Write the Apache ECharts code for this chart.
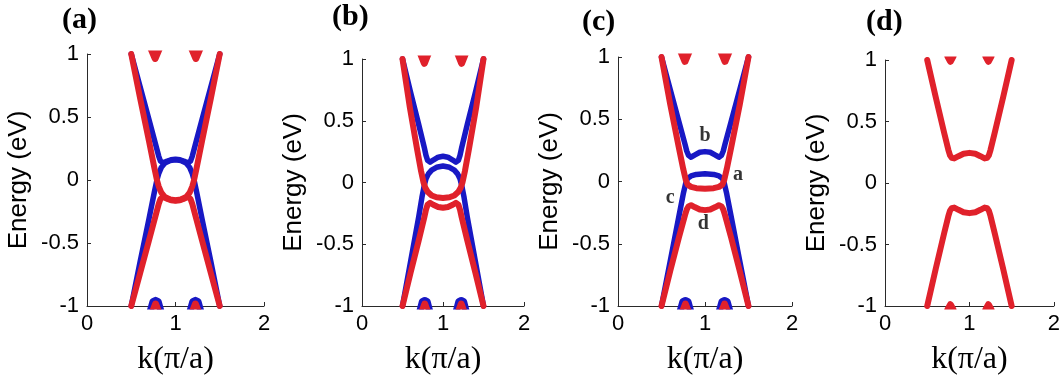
<!DOCTYPE html>
<html><head><meta charset="utf-8">
<script src="https://cdn.jsdelivr.net/npm/echarts@6/dist/echarts.min.js"></script>
<style>html,body{margin:0;padding:0;background:#fff}#c{width:1063px;height:381px}</style>
</head><body><div id="c"></div><script>
const panelLabels = ['(a)', '(b)', '(c)', '(d)'];
const xName = 'k(π/a)';
const yName = 'Energy (eV)';

// Panel (a)
const aBlue1 = [[0.5,1],[0.6,0.74],[0.7,0.48],[0.78,0.27],[0.81,0.19],[0.83,0.15],[0.86,0.135],[0.9,0.148],[0.95,0.16],[1,0.165],[1.05,0.16],[1.1,0.148],[1.14,0.135],[1.17,0.15],[1.19,0.19],[1.22,0.27],[1.3,0.48],[1.4,0.74],[1.5,1]];
const aBlue2 = [[0.5,-1],[0.6,-0.65],[0.7,-0.31],[0.76,-0.1],[0.79,0],[0.81,0.05],[0.84,0.1],[0.88,0.135],[0.94,0.155],[1,0.16],[1.06,0.155],[1.12,0.135],[1.16,0.1],[1.19,0.05],[1.21,0],[1.24,-0.1],[1.3,-0.31],[1.4,-0.65],[1.5,-1]];
const aRed1 = [[0.5,1],[0.6,0.65],[0.7,0.31],[0.76,0.1],[0.79,0],[0.81,-0.05],[0.84,-0.1],[0.88,-0.135],[0.94,-0.155],[1,-0.16],[1.06,-0.155],[1.12,-0.135],[1.16,-0.1],[1.19,-0.05],[1.21,0],[1.24,0.1],[1.3,0.31],[1.4,0.65],[1.5,1]];
const aRed2 = [[0.5,-1],[0.6,-0.74],[0.7,-0.48],[0.78,-0.27],[0.81,-0.19],[0.83,-0.15],[0.86,-0.135],[0.9,-0.148],[0.95,-0.16],[1,-0.165],[1.05,-0.16],[1.1,-0.148],[1.14,-0.135],[1.17,-0.15],[1.19,-0.19],[1.22,-0.27],[1.3,-0.48],[1.4,-0.74],[1.5,-1]];

// Panel (b)
const bBlue1 = [[0.5,1],[0.6,0.73],[0.7,0.47],[0.77,0.28],[0.79,0.22],[0.81,0.18],[0.84,0.165],[0.88,0.182],[0.94,0.205],[1,0.212],[1.06,0.205],[1.12,0.182],[1.16,0.165],[1.19,0.18],[1.21,0.22],[1.23,0.28],[1.3,0.47],[1.4,0.73],[1.5,1]];
const bBlue2 = [[0.5,-1],[0.6,-0.64],[0.7,-0.28],[0.74,-0.12],[0.77,-0.02],[0.79,0.03],[0.82,0.07],[0.86,0.1],[0.92,0.123],[1,0.133],[1.08,0.123],[1.14,0.1],[1.18,0.07],[1.21,0.03],[1.23,-0.02],[1.26,-0.12],[1.3,-0.28],[1.4,-0.64],[1.5,-1]];
const bRed1 = [[0.5,1],[0.59,0.61],[0.68,0.27],[0.73,0.09],[0.76,0],[0.78,-0.04],[0.81,-0.075],[0.86,-0.105],[0.92,-0.12],[1,-0.125],[1.08,-0.12],[1.14,-0.105],[1.19,-0.075],[1.22,-0.04],[1.24,0],[1.27,0.09],[1.32,0.27],[1.41,0.61],[1.5,1]];
const bRed2 = [[0.5,-1],[0.6,-0.73],[0.7,-0.47],[0.77,-0.28],[0.79,-0.22],[0.81,-0.18],[0.84,-0.165],[0.88,-0.18],[0.94,-0.198],[1,-0.205],[1.06,-0.198],[1.12,-0.18],[1.16,-0.165],[1.19,-0.18],[1.21,-0.22],[1.23,-0.28],[1.3,-0.47],[1.4,-0.73],[1.5,-1]];

// Panel (c)
const cBlue1 = [[0.5,1],[0.6,0.74],[0.7,0.48],[0.77,0.3],[0.79,0.245],[0.81,0.21],[0.84,0.195],[0.88,0.212],[0.94,0.235],[1,0.24],[1.06,0.235],[1.12,0.212],[1.16,0.195],[1.19,0.21],[1.21,0.245],[1.23,0.3],[1.3,0.48],[1.4,0.74],[1.5,1]];
const cBlue2 = [[0.5,-1],[0.6,-0.64],[0.7,-0.28],[0.75,-0.1],[0.78,-0.01],[0.8,0.025],[0.84,0.045],[0.9,0.057],[1,0.062],[1.1,0.057],[1.16,0.045],[1.2,0.025],[1.22,-0.01],[1.25,-0.1],[1.3,-0.28],[1.4,-0.64],[1.5,-1]];
const cRed1 = [[0.5,1],[0.6,0.62],[0.7,0.27],[0.75,0.1],[0.78,0.01],[0.8,-0.025],[0.84,-0.043],[0.9,-0.054],[1,-0.058],[1.1,-0.054],[1.16,-0.043],[1.2,-0.025],[1.22,0.01],[1.25,0.1],[1.3,0.27],[1.4,0.62],[1.5,1]];
const cRed2 = [[0.5,-1],[0.6,-0.72],[0.7,-0.45],[0.77,-0.27],[0.79,-0.225],[0.81,-0.2],[0.84,-0.19],[0.88,-0.205],[0.94,-0.225],[1,-0.23],[1.06,-0.225],[1.12,-0.205],[1.16,-0.19],[1.19,-0.2],[1.21,-0.225],[1.23,-0.27],[1.3,-0.45],[1.4,-0.72],[1.5,-1]];
const cNotes = ['b', 'a', 'c', 'd'];
const cNoteAt = [[1.0,0.37],[1.38,0.05],[0.6,-0.13],[0.98,-0.34]];

// Panel (d)
const dRed1 = [[0.5,1],[0.6,0.7],[0.7,0.41],[0.75,0.27],[0.77,0.225],[0.79,0.205],[0.82,0.2],[0.87,0.218],[0.93,0.238],[1,0.245],[1.07,0.238],[1.13,0.218],[1.18,0.2],[1.21,0.205],[1.23,0.225],[1.25,0.27],[1.3,0.41],[1.4,0.7],[1.5,1]];
const dRed2 = [[0.5,-1],[0.6,-0.7],[0.7,-0.41],[0.75,-0.27],[0.77,-0.225],[0.79,-0.205],[0.82,-0.2],[0.87,-0.218],[0.93,-0.238],[1,-0.245],[1.07,-0.238],[1.13,-0.218],[1.18,-0.2],[1.21,-0.205],[1.23,-0.225],[1.25,-0.27],[1.3,-0.41],[1.4,-0.7],[1.5,-1]];

// Band fragments entering the window at the edges (E = ±1)
const topRedL = [[0.725,1.04],[0.77,0.965],[0.815,1.04]];
const topRedR = [[1.185,1.04],[1.23,0.965],[1.275,1.04]];
const botBlueL = [[0.715,-1.04],[0.745,-0.965],[0.775,-0.955],[0.805,-0.965],[0.835,-1.04]];
const botBlueR = [[1.165,-1.04],[1.195,-0.965],[1.225,-0.955],[1.255,-0.965],[1.285,-1.04]];
const botRedL = [[0.745,-1.04],[0.775,-0.985],[0.805,-1.04]];
const botRedR = [[1.195,-1.04],[1.225,-0.985],[1.255,-1.04]];
const dTopL = [[0.745,1.03],[0.775,0.99],[0.805,1.03]];
const dTopR = [[1.195,1.03],[1.225,0.99],[1.255,1.03]];
const dBotL = [[0.745,-1.03],[0.775,-0.99],[0.805,-1.03]];
const dBotR = [[1.195,-1.03],[1.225,-0.99],[1.255,-1.03]];

const BLUE = '#1818c4';
const RED = '#e0212b';
const grids = [
  {left: 87, top: 54, width: 177, height: 255},
  {left: 362, top: 59, width: 162, height: 249},
  {left: 618, top: 57, width: 174, height: 255},
  {left: 885, top: 60, width: 172, height: 253}
];
const titlePos = [[62, 5], [332, 2], [582, 7], [866, 7]];

// [grid, data, colour, isEdgeFragment]
const bands = [
  [0, aBlue1, BLUE], [0, aBlue2, BLUE], [0, botBlueL, BLUE, 1], [0, botBlueR, BLUE, 1],
  [0, aRed1, RED], [0, aRed2, RED], [0, topRedL, RED, 1], [0, topRedR, RED, 1], [0, botRedL, RED, 1], [0, botRedR, RED, 1],
  [1, bBlue1, BLUE], [1, bBlue2, BLUE], [1, botBlueL, BLUE, 1], [1, botBlueR, BLUE, 1],
  [1, bRed1, RED], [1, bRed2, RED], [1, topRedL, RED, 1], [1, topRedR, RED, 1], [1, botRedL, RED, 1], [1, botRedR, RED, 1],
  [2, cBlue1, BLUE], [2, cBlue2, BLUE], [2, botBlueL, BLUE, 1], [2, botBlueR, BLUE, 1],
  [2, cRed1, RED], [2, cRed2, RED], [2, topRedL, RED, 1], [2, topRedR, RED, 1], [2, botRedL, RED, 1], [2, botRedR, RED, 1],
  [3, dRed1, RED], [3, dRed2, RED], [3, dTopL, RED, 1], [3, dTopR, RED, 1], [3, dBotL, RED, 1], [3, dBotR, RED, 1]
];

const axisColor = '#2a2a2a';
const xAxes = grids.map((g, i) => ({
  gridIndex: i, type: 'value', min: 0, max: 2, interval: 1,
  axisLine: {show: true, onZero: false, lineStyle: {color: axisColor, width: 1}},
  axisTick: {show: true, inside: true, length: 4, lineStyle: {color: axisColor}},
  axisLabel: {color: '#000', fontSize: 22, fontFamily: 'Liberation Sans', margin: 7, showMinLabel: true, showMaxLabel: true},
  splitLine: {show: false},
  name: xName, nameLocation: 'middle', nameGap: 38,
  nameTextStyle: {fontFamily: 'Liberation Serif', fontSize: 32, color: '#000'}
}));
const yAxes = grids.map((g, i) => ({
  gridIndex: i, type: 'value', min: -1, max: 1, interval: 0.5,
  axisLine: {show: true, onZero: false, lineStyle: {color: axisColor, width: 1}},
  axisTick: {show: true, inside: true, length: 4, lineStyle: {color: axisColor}},
  axisLabel: {color: '#000', fontSize: 22, fontFamily: 'Liberation Sans', margin: 8, showMinLabel: true, showMaxLabel: true},
  splitLine: {show: false},
  name: yName, nameLocation: 'middle', nameGap: 55, nameRotate: 90,
  nameTextStyle: {fontFamily: 'Liberation Sans', fontSize: 26, color: '#000'}
}));

const series = bands.map(([gi, data, color, edge]) => ({
  type: 'line', xAxisIndex: gi, yAxisIndex: gi, data: data,
  showSymbol: false, symbol: 'none', smooth: false, clip: true,
  lineStyle: {color: color, width: edge ? 7 : (color === RED ? 6 : 5.5), cap: 'round', join: 'round'},
  silent: true, animation: false
}));
series.push({
  type: 'scatter', xAxisIndex: 2, yAxisIndex: 2, symbolSize: 0,
  data: cNotes.map((n, k) => ({name: n, value: cNoteAt[k]})),
  label: {show: true, position: 'inside', formatter: '{b}', fontFamily: 'Liberation Serif', fontWeight: 'bold', fontSize: 20, color: '#000'},
  silent: true, animation: false
});

const chart = echarts.init(document.getElementById('c'), null, {renderer: 'canvas'});
chart.setOption({
  backgroundColor: '#fff',
  animation: false,
  title: panelLabels.map((t, i) => ({
    text: t, left: titlePos[i][0], top: titlePos[i][1], padding: 0,
    textStyle: {fontFamily: 'Liberation Serif', fontWeight: 'bold', fontSize: 30, color: '#000'}
  })),
  grid: grids.map(g => Object.assign({containLabel: false, show: false}, g)),
  xAxis: xAxes,
  yAxis: yAxes,
  series: series
});
</script></body></html>
